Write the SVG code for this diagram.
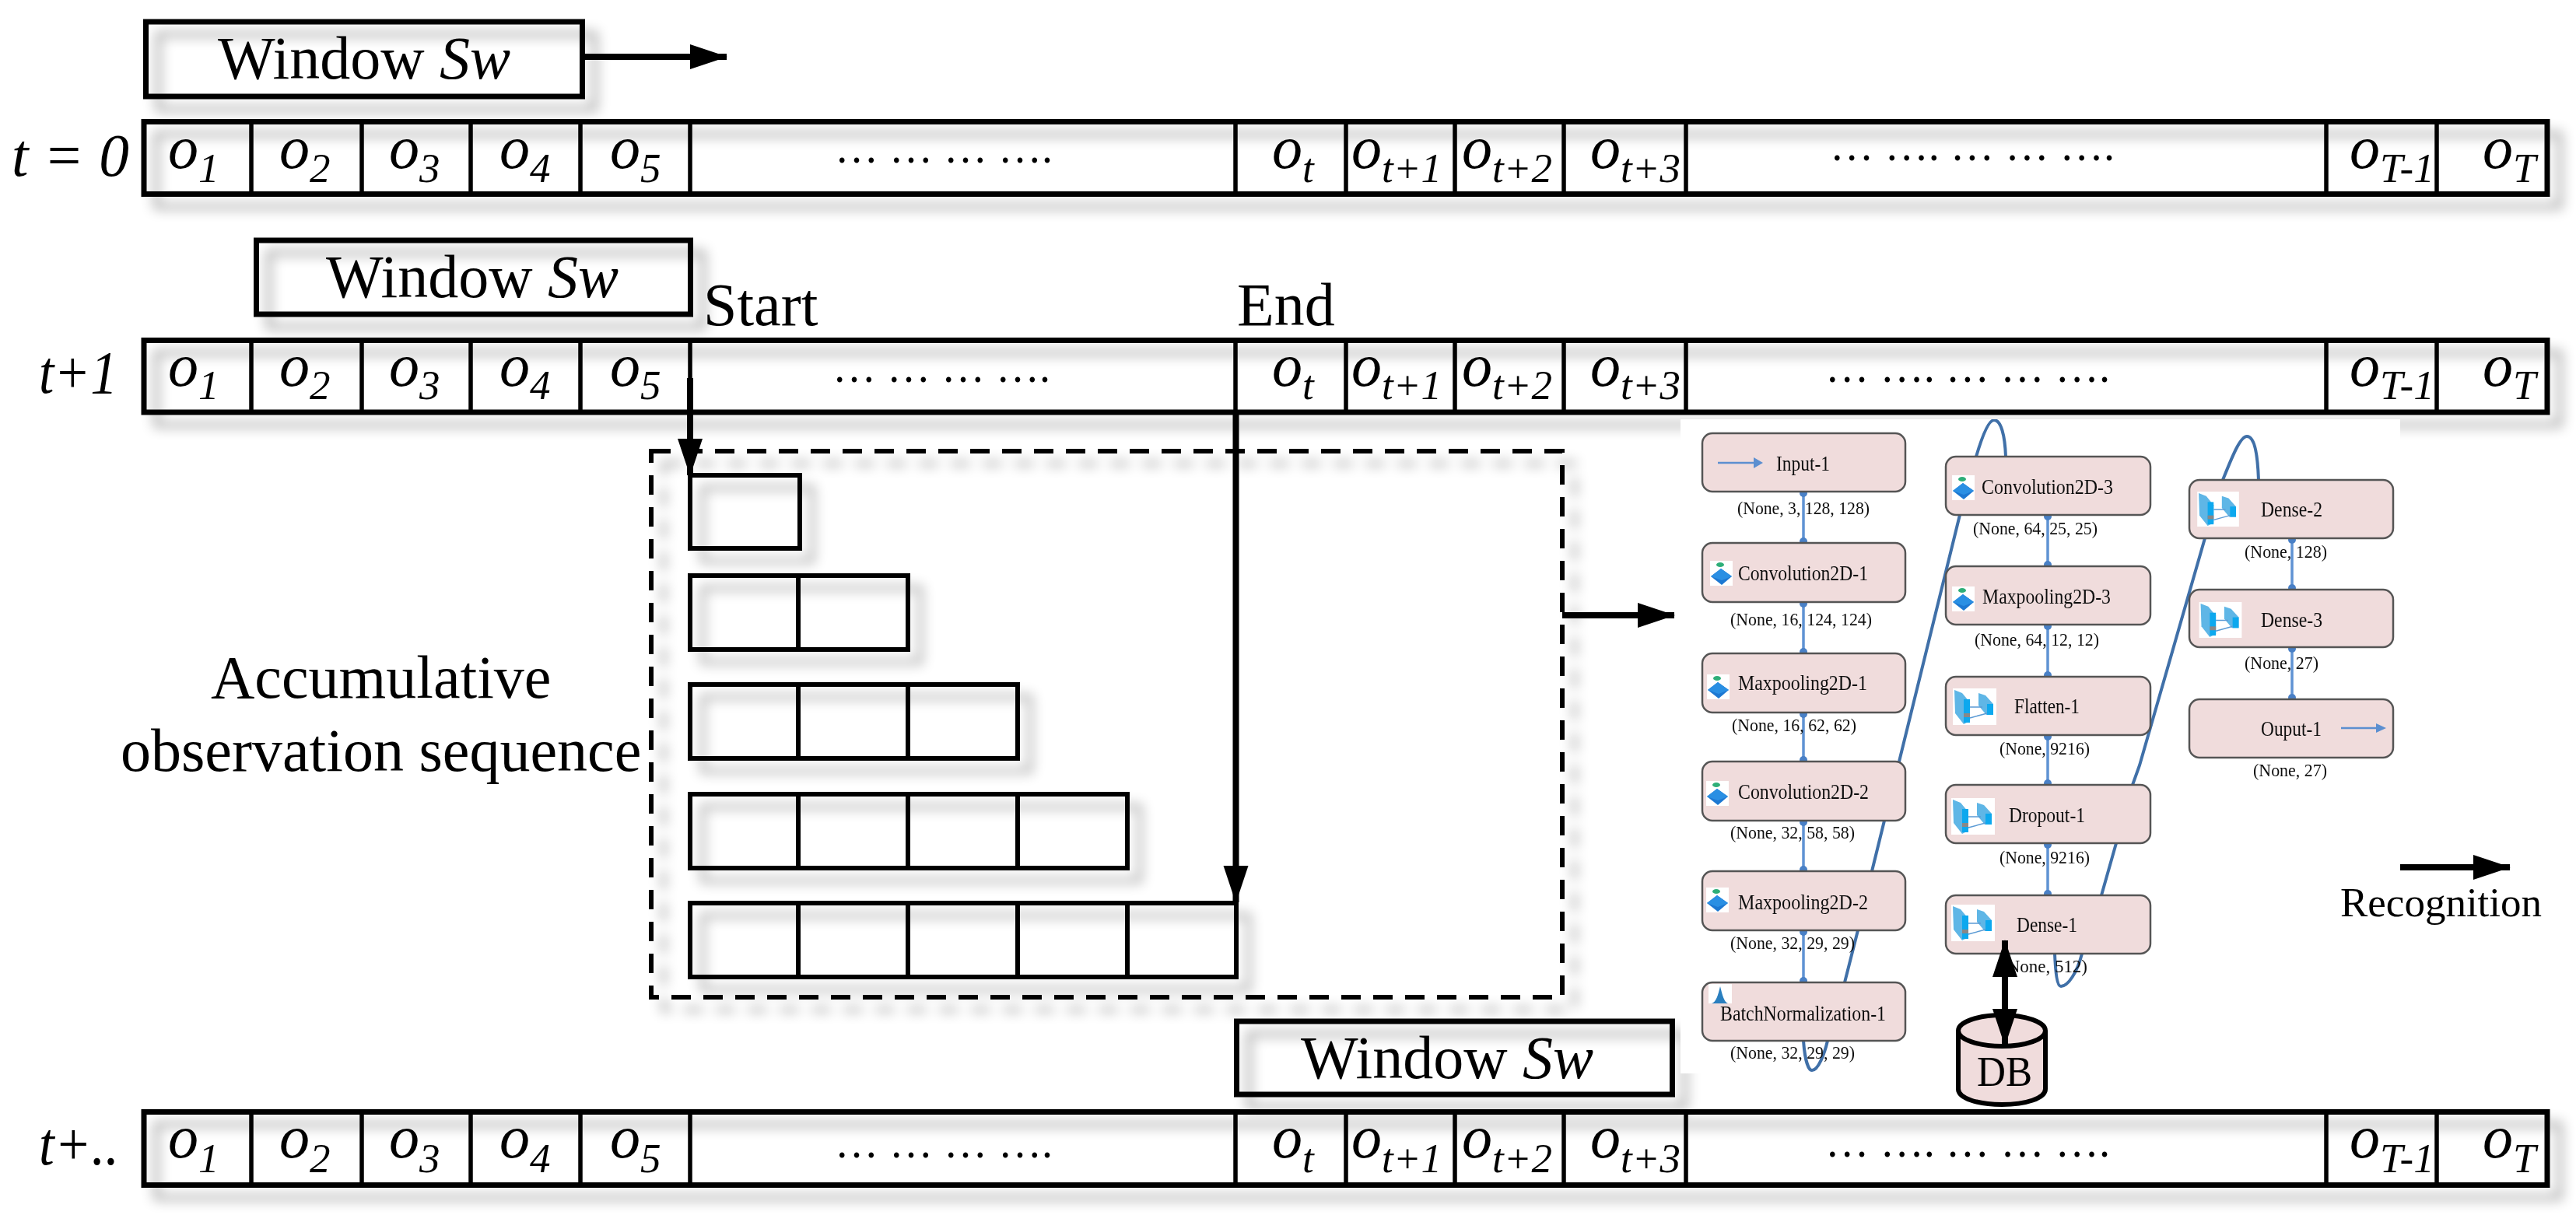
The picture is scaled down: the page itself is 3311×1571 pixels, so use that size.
<svg xmlns="http://www.w3.org/2000/svg" width="3311" height="1571" viewBox="0 0 3311 1571">
<style>
text{font-family:"Liberation Serif","Times New Roman",serif;fill:#000}
.b{fill:none;stroke:#000;stroke-width:7}
.d{stroke:#000;stroke-width:5.5;fill:none}
.c{fill:none;stroke:#000;stroke-width:6}
.t{font-size:78px}
.i{font-size:78px;font-style:italic}
.s{font-size:53px}
.dots{font-size:60px}
.n{fill:#f0dcdc;stroke:#555;stroke-width:2.5}
.nt{font-size:27px;fill:#111}
.lb{font-size:24px;fill:#111}
.short{stroke:#5f93d3;stroke-width:3.5;fill:none}
.long{stroke:#3f6fa8;stroke-width:4;fill:none}
.ar{stroke:#000;stroke-width:8;fill:none}
</style>
<defs>
<filter id="sh" filterUnits="userSpaceOnUse" x="0" y="0" width="3311" height="1571" color-interpolation-filters="sRGB">
<feGaussianBlur in="SourceAlpha" stdDeviation="8" result="b"/>
<feOffset in="b" dx="16" dy="16" result="o"/>
<feComponentTransfer in="o" result="c"><feFuncA type="linear" slope="0.34"/></feComponentTransfer>
<feMerge><feMergeNode in="c"/><feMergeNode in="SourceGraphic"/></feMerge>
</filter>
<filter id="soft" filterUnits="userSpaceOnUse" x="2160" y="539" width="930" height="845"><feGaussianBlur stdDeviation="0.7"/></filter>
<symbol id="conv" viewBox="0 0 29 32" overflow="visible">
<rect width="29" height="32" fill="#fff"/>
<ellipse cx="13" cy="5" rx="5" ry="3" fill="#2fae78"/>
<path d="M14 10L28 20L15 31L1 20Z" fill="#1f78d2"/>
<path d="M14 10L28 20L15 25L1 20Z" fill="#2c8fe3"/>
</symbol>
<symbol id="dense" viewBox="0 0 56 47" overflow="visible">
<rect width="56" height="47" fill="#fff"/>
<path d="M2 2L12 6L22 18V42L14 46L3 32Z" fill="#5fb6e6"/>
<rect x="14" y="14" width="8" height="30" fill="#10a8ee"/>
<path d="M33 6L42 9L52 20V34H43L33 22Z" fill="#5fb6e6"/>
<rect x="44" y="20" width="8" height="14" fill="#10a8ee"/>
<path d="M22 24H38M22 38L44 32" stroke="#5b9bd5" stroke-width="1.5" fill="none"/>
<rect x="14" y="32" width="8" height="5" fill="#888"/>
</symbol>
<marker id="h" markerUnits="userSpaceOnUse" markerWidth="48" markerHeight="34" refX="47" refY="16" orient="auto"><path d="M0 0L48 16L0 32Z" fill="#000"/></marker>
<marker id="h2" markerUnits="userSpaceOnUse" markerWidth="48" markerHeight="34" refX="47" refY="16" orient="auto-start-reverse"><path d="M0 0L48 16L0 32Z" fill="#000"/></marker>
</defs>
<rect width="3311" height="1571" fill="#fff"/>

<g id="window-1"><rect class="b" x="187.500" y="28" width="561" height="96" filter="url(#sh)"/><text class="t" x="280" y="101">Window <tspan font-style="italic">Sw</tspan></text></g>

<g id="row-t0">
<rect class="b" x="185" y="156.500" width="3089" height="93" filter="url(#sh)"/>
<path class="d" d="M323 157V249M465 157V249M605 157V249M746 157V249M887 157V249M1588 157V249M1730 157V249M1870 157V249M2010 157V249M2167 157V249M2990 157V249M3132 157V249"/>
<text class="i" x="15" y="226" textLength="151" lengthAdjust="spacingAndGlyphs">t = 0</text>
<text class="i" x="216" y="216">o<tspan class="s" dy="18">1</tspan></text>
<text class="i" x="359" y="216">o<tspan class="s" dy="18">2</tspan></text>
<text class="i" x="500" y="216">o<tspan class="s" dy="18">3</tspan></text>
<text class="i" x="642" y="216">o<tspan class="s" dy="18">4</tspan></text>
<text class="i" x="784" y="216">o<tspan class="s" dy="18">5</tspan></text>
<text class="dots" x="1073" y="209" textLength="280" lengthAdjust="spacingAndGlyphs">… … … ….</text>
<text class="i" x="1635" y="216">o<tspan class="s" dy="18">t</tspan></text>
<text class="i" x="1737" y="216">o<tspan class="s" dy="18">t+1</tspan></text>
<text class="i" x="1879" y="216">o<tspan class="s" dy="18">t+2</tspan></text>
<text class="i" x="2044" y="216">o<tspan class="s" dy="18">t+3</tspan></text>
<text class="dots" x="2352" y="206" textLength="366" lengthAdjust="spacingAndGlyphs">… …. … … ….</text>
<text class="i" x="3020" y="216">o<tspan class="s" dy="18">T-1</tspan></text>
<text class="i" x="3191" y="216">o<tspan class="s" dy="18">T</tspan></text>
</g>

<g id="window-2"><rect class="b" x="329.500" y="309" width="558" height="95" filter="url(#sh)"/><text class="t" x="419" y="382">Window <tspan font-style="italic">Sw</tspan></text></g>
<text id="label-start" class="t" x="904" y="418">Start</text>
<text id="label-end" class="t" x="1590" y="418">End</text>

<g id="row-t1">
<rect class="b" x="185" y="437.500" width="3089" height="92.500" filter="url(#sh)"/>
<path class="d" d="M323 438V530M465 438V530M605 438V530M746 438V530M887 438V530M1588 438V530M1730 438V530M1870 438V530M2010 438V530M2167 438V530M2990 438V530M3132 438V530"/>
<text class="i" x="50" y="505" textLength="101" lengthAdjust="spacingAndGlyphs">t+1</text>
<text class="i" x="216" y="496">o<tspan class="s" dy="17">1</tspan></text>
<text class="i" x="359" y="496">o<tspan class="s" dy="17">2</tspan></text>
<text class="i" x="500" y="496">o<tspan class="s" dy="17">3</tspan></text>
<text class="i" x="642" y="496">o<tspan class="s" dy="17">4</tspan></text>
<text class="i" x="784" y="496">o<tspan class="s" dy="17">5</tspan></text>
<text class="dots" x="1070" y="491" textLength="280" lengthAdjust="spacingAndGlyphs">… … … ….</text>
<text class="i" x="1635" y="496">o<tspan class="s" dy="17">t</tspan></text>
<text class="i" x="1737" y="496">o<tspan class="s" dy="17">t+1</tspan></text>
<text class="i" x="1879" y="496">o<tspan class="s" dy="17">t+2</tspan></text>
<text class="i" x="2044" y="496">o<tspan class="s" dy="17">t+3</tspan></text>
<text class="dots" x="2346" y="491" textLength="366" lengthAdjust="spacingAndGlyphs">… …. … … ….</text>
<text class="i" x="3020" y="496">o<tspan class="s" dy="17">T-1</tspan></text>
<text class="i" x="3191" y="496">o<tspan class="s" dy="17">T</tspan></text>
</g>

<g id="window-3"><rect class="b" x="1589.500" y="1313" width="560" height="94" filter="url(#sh)"/><text class="t" x="1672" y="1386">Window <tspan font-style="italic">Sw</tspan></text></g>

<g id="row-tn">
<rect class="b" x="185" y="1429.500" width="3089" height="94" filter="url(#sh)"/>
<path class="d" d="M323 1430V1523M465 1430V1523M605 1430V1523M746 1430V1523M887 1430V1523M1588 1430V1523M1730 1430V1523M1870 1430V1523M2010 1430V1523M2167 1430V1523M2990 1430V1523M3132 1430V1523"/>
<text class="i" x="50" y="1497" textLength="103" lengthAdjust="spacingAndGlyphs">t+..</text>
<text class="i" x="216" y="1488">o<tspan class="s" dy="19">1</tspan></text>
<text class="i" x="359" y="1488">o<tspan class="s" dy="19">2</tspan></text>
<text class="i" x="500" y="1488">o<tspan class="s" dy="19">3</tspan></text>
<text class="i" x="642" y="1488">o<tspan class="s" dy="19">4</tspan></text>
<text class="i" x="784" y="1488">o<tspan class="s" dy="19">5</tspan></text>
<text class="dots" x="1073" y="1488" textLength="280" lengthAdjust="spacingAndGlyphs">… … … ….</text>
<text class="i" x="1635" y="1488">o<tspan class="s" dy="19">t</tspan></text>
<text class="i" x="1737" y="1488">o<tspan class="s" dy="19">t+1</tspan></text>
<text class="i" x="1879" y="1488">o<tspan class="s" dy="19">t+2</tspan></text>
<text class="i" x="2044" y="1488">o<tspan class="s" dy="19">t+3</tspan></text>
<text class="dots" x="2346" y="1487" textLength="366" lengthAdjust="spacingAndGlyphs">… …. … … ….</text>
<text class="i" x="3020" y="1488">o<tspan class="s" dy="19">T-1</tspan></text>
<text class="i" x="3191" y="1488">o<tspan class="s" dy="19">T</tspan></text>
</g>

<g id="accumulative">
<rect x="837" y="580" width="1171" height="702" fill="none" stroke="#000" stroke-width="6" stroke-dasharray="25 16" filter="url(#sh)"/>
<text class="t" x="271" y="897">Accumulative</text>
<text class="t" x="155" y="991">observation sequence</text>
<g id="seq-1"><rect class="c" x="887" y="611" width="141" height="94" filter="url(#sh)"/></g>
<g id="seq-2"><rect class="c" x="887" y="740" width="280" height="95" filter="url(#sh)"/><path class="c" d="M1026 740V835"/></g>
<g id="seq-3"><rect class="c" x="887" y="880" width="421" height="95" filter="url(#sh)"/><path class="c" d="M1026 880V975M1167 880V975"/></g>
<g id="seq-4"><rect class="c" x="887" y="1021" width="562" height="95" filter="url(#sh)"/><path class="c" d="M1026 1021V1116M1167 1021V1116M1308 1021V1116"/></g>
<g id="seq-5"><rect class="c" x="887" y="1161" width="702" height="95" filter="url(#sh)"/><path class="c" d="M1026 1161V1256M1167 1161V1256M1308 1161V1256M1449 1161V1256"/></g>
</g>

<rect id="network-background" x="2160" y="539" width="925" height="841" fill="#fff"/>

<g id="network" filter="url(#soft)">
<g id="cnn-connectors">
<path class="long" d="M2318 1338C2320 1365 2325 1376 2329 1376C2337 1376 2345 1355 2349 1338L2371 1263L2388 1196L2406 1120L2422 1055L2441 979L2519 662L2540 587C2548 560 2556 540 2563 540C2572 540 2577 560 2578 587"/>
<path class="long" d="M2641 1226C2642 1250 2644 1268 2649 1268C2658 1268 2670 1250 2676 1226L2701 1151L2720 1084L2741 1009L2750 984L2834 692L2857 617C2868 590 2879 561 2888 561C2899 561 2902 590 2903 617"/>
<path class="short" d="M2318 632V698M2318 774V840M2318 916V979M2318 1055V1120M2318 1196V1263M2632 662V728M2632 803V870M2632 945V1009M2632 1084V1151M2946 692V758M2946 832V899"/>
<g fill="#4a80c6"><circle cx="2318" cy="634" r="5"/><circle cx="2318" cy="696" r="5"/><circle cx="2318" cy="776" r="5"/><circle cx="2318" cy="838" r="5"/><circle cx="2318" cy="918" r="5"/><circle cx="2318" cy="977" r="5"/><circle cx="2318" cy="1057" r="5"/><circle cx="2318" cy="1118" r="5"/><circle cx="2318" cy="1198" r="5"/><circle cx="2318" cy="1261" r="5"/><circle cx="2632" cy="664" r="5"/><circle cx="2632" cy="726" r="5"/><circle cx="2632" cy="805" r="5"/><circle cx="2632" cy="868" r="5"/><circle cx="2632" cy="947" r="5"/><circle cx="2632" cy="1007" r="5"/><circle cx="2632" cy="1086" r="5"/><circle cx="2632" cy="1149" r="5"/><circle cx="2946" cy="694" r="5"/><circle cx="2946" cy="756" r="5"/><circle cx="2946" cy="834" r="5"/><circle cx="2946" cy="897" r="5"/></g>
</g>

<g id="n-input"><rect class="n" x="2188" y="557" width="261" height="75" rx="13"/><path d="M2208 595H2258" stroke="#5b8fd0" stroke-width="2.500"/><path d="M2254 588L2266 595L2254 602Z" fill="#5b8fd0"/><text class="nt" x="2283" y="605" textLength="69" lengthAdjust="spacingAndGlyphs">Input-1</text><text class="lb" x="2233" y="661" textLength="170" lengthAdjust="spacingAndGlyphs">(None, 3, 128, 128)</text></g>
<g id="n-conv1"><rect class="n" x="2188" y="698" width="261" height="76" rx="13"/><use href="#conv" x="2198" y="721" width="29" height="32"/><text class="nt" x="2234" y="746" textLength="167" lengthAdjust="spacingAndGlyphs">Convolution2D-1</text><text class="lb" x="2224" y="804" textLength="182" lengthAdjust="spacingAndGlyphs">(None, 16, 124, 124)</text></g>
<g id="n-max1"><rect class="n" x="2188" y="840" width="261" height="76" rx="13"/><use href="#conv" x="2194" y="867" width="29" height="32"/><text class="nt" x="2234" y="887" textLength="166" lengthAdjust="spacingAndGlyphs">Maxpooling2D-1</text><text class="lb" x="2226" y="940" textLength="160" lengthAdjust="spacingAndGlyphs">(None, 16, 62, 62)</text></g>
<g id="n-conv2"><rect class="n" x="2188" y="979" width="261" height="76" rx="13"/><use href="#conv" x="2193" y="1004" width="29" height="32"/><text class="nt" x="2234" y="1027" textLength="168" lengthAdjust="spacingAndGlyphs">Convolution2D-2</text><text class="lb" x="2224" y="1078" textLength="160" lengthAdjust="spacingAndGlyphs">(None, 32, 58, 58)</text></g>
<g id="n-max2"><rect class="n" x="2188" y="1120" width="261" height="76" rx="13"/><use href="#conv" x="2193" y="1141" width="29" height="32"/><text class="nt" x="2234" y="1169" textLength="167" lengthAdjust="spacingAndGlyphs">Maxpooling2D-2</text><text class="lb" x="2224" y="1220" textLength="160" lengthAdjust="spacingAndGlyphs">(None, 32, 29, 29)</text></g>
<g id="n-batch"><rect class="n" x="2188" y="1263" width="261" height="75" rx="13"/><rect x="2196" y="1265" width="30" height="25" fill="#fff"/><path d="M2211 1268C2214 1280 2216 1288 2221 1290H2200C2206 1288 2208 1280 2211 1268Z" fill="#2a7fbf"/><text class="nt" x="2211" y="1312" textLength="213" lengthAdjust="spacingAndGlyphs">BatchNormalization-1</text><text class="lb" x="2224" y="1361" textLength="160" lengthAdjust="spacingAndGlyphs">(None, 32, 29, 29)</text></g>
<g id="n-conv3"><rect class="n" x="2501" y="587" width="263" height="75" rx="13"/><use href="#conv" x="2509" y="611" width="29" height="32"/><text class="nt" x="2547" y="635" textLength="169" lengthAdjust="spacingAndGlyphs">Convolution2D-3</text><text class="lb" x="2536" y="687" textLength="160" lengthAdjust="spacingAndGlyphs">(None, 64, 25, 25)</text></g>
<g id="n-max3"><rect class="n" x="2501" y="728" width="263" height="75" rx="13"/><use href="#conv" x="2509" y="754" width="29" height="32"/><text class="nt" x="2548" y="776" textLength="165" lengthAdjust="spacingAndGlyphs">Maxpooling2D-3</text><text class="lb" x="2538" y="830" textLength="160" lengthAdjust="spacingAndGlyphs">(None, 64, 12, 12)</text></g>
<g id="n-flatten"><rect class="n" x="2501" y="870" width="263" height="75" rx="13"/><use href="#dense" x="2510" y="885" width="56" height="47"/><text class="nt" x="2589" y="917" textLength="84" lengthAdjust="spacingAndGlyphs">Flatten-1</text><text class="lb" x="2570" y="970" textLength="116" lengthAdjust="spacingAndGlyphs">(None, 9216)</text></g>
<g id="n-dropout"><rect class="n" x="2501" y="1009" width="263" height="75" rx="13"/><use href="#dense" x="2508" y="1026" width="56" height="47"/><text class="nt" x="2582" y="1057" textLength="98" lengthAdjust="spacingAndGlyphs">Dropout-1</text><text class="lb" x="2570" y="1110" textLength="116" lengthAdjust="spacingAndGlyphs">(None, 9216)</text></g>
<g id="n-dense1"><rect class="n" x="2501" y="1151" width="263" height="75" rx="13"/><use href="#dense" x="2508" y="1163" width="56" height="47"/><text class="nt" x="2592" y="1198" textLength="78" lengthAdjust="spacingAndGlyphs">Dense-1</text><text class="lb" x="2572" y="1250" textLength="111" lengthAdjust="spacingAndGlyphs">(None, 512)</text></g>
<g id="n-dense2"><rect class="n" x="2814" y="617" width="262" height="75" rx="13"/><use href="#dense" x="2823" y="632" width="56" height="45"/><text class="nt" x="2906" y="664" textLength="79" lengthAdjust="spacingAndGlyphs">Dense-2</text><text class="lb" x="2885" y="717" textLength="106" lengthAdjust="spacingAndGlyphs">(None, 128)</text></g>
<g id="n-dense3"><rect class="n" x="2814" y="758" width="262" height="74" rx="13"/><use href="#dense" x="2826" y="774" width="56" height="46"/><text class="nt" x="2906" y="806" textLength="79" lengthAdjust="spacingAndGlyphs">Dense-3</text><text class="lb" x="2885" y="860" textLength="95" lengthAdjust="spacingAndGlyphs">(None, 27)</text></g>
<g id="n-output"><rect class="n" x="2814" y="899" width="262" height="75" rx="13"/><path d="M3009 936H3058" stroke="#5b8fd0" stroke-width="2.500"/><path d="M3054 930L3067 936L3054 942Z" fill="#5b8fd0"/><text class="nt" x="2906" y="946" textLength="78" lengthAdjust="spacingAndGlyphs">Ouput-1</text><text class="lb" x="2896" y="998" textLength="95" lengthAdjust="spacingAndGlyphs">(None, 27)</text></g>
</g>

<g id="db">
<path d="M2517 1325V1400C2517 1412 2542 1420 2573 1420C2604 1420 2629 1412 2629 1400V1325" fill="#f0dcdc" stroke="#000" stroke-width="6"/>
<ellipse cx="2573" cy="1325" rx="56" ry="20" fill="#f0dcdc" stroke="#000" stroke-width="6"/>
<text x="2541" y="1396" font-size="55" textLength="71" lengthAdjust="spacingAndGlyphs">DB</text>
</g>

<g id="connectors">
<path class="ar" d="M752 73H934" marker-end="url(#h)"/>
<path class="ar" d="M887 486V611" marker-end="url(#h)"/>
<path class="ar" d="M1588.500 533V1160" marker-end="url(#h)"/>
<path class="ar" d="M2008 791H2152" stroke-width="9" marker-end="url(#h)"/>
<path class="ar" d="M2577 1209V1344" marker-start="url(#h2)" marker-end="url(#h2)"/>
<path class="ar" d="M3085 1115H3226" marker-end="url(#h)"/>
</g>
<text id="label-recognition" x="3008" y="1178" font-size="53">Recognition</text>
</svg>
